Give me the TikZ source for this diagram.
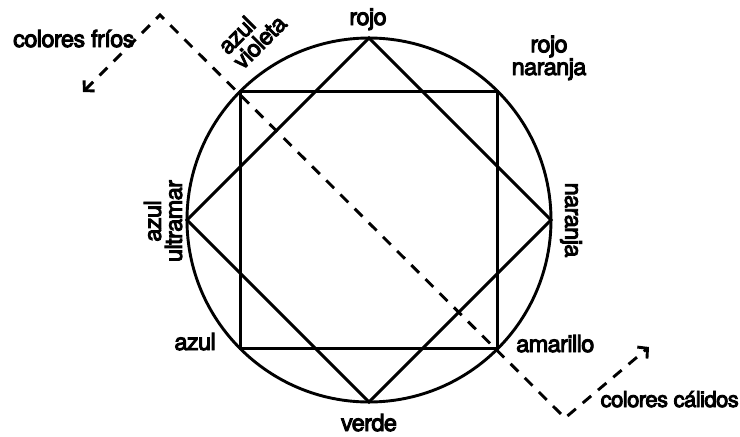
\documentclass[tikz,border=0pt]{standalone}
\usepackage{fontspec}
\setmainfont{TeX Gyre Heros}
\newfontfamily\lblfont{TeX Gyre Heros}[FakeBold=4, LetterSpace=-2.5]
\usetikzlibrary{arrows.meta,positioning}
\tikzset{
  wheelline/.style={line width=2.9pt, line join=miter},
  lbl/.style={font=\lblfont\fontsize{23.5}{21}\selectfont, inner sep=0pt, align=center},
  templine/.style={line width=2.9pt, dash pattern=on 11pt off 9pt,
                   {Straight Barb[length=7pt,width=15pt,line width=2.9pt]}-{Straight Barb[length=7pt,width=15pt,line width=2.9pt]}}
}

\begin{document}
\begin{tikzpicture}[x=1pt, y=-1pt]
  \useasboundingbox (0,0) rectangle (740,437);
  % color wheel
  \node[draw, wheelline, circle, minimum size=364pt, inner sep=0pt, outer sep=0pt] (wheel) at (369,220) {};
  \draw[wheelline] (wheel.north) -- (wheel.east) -- (wheel.south) -- (wheel.west) -- cycle;
  \draw[wheelline] (wheel.north west) -- (wheel.north east) -- (wheel.south east) -- (wheel.south west) -- cycle;
  % warm / cold split
  \coordinate (friosTip) at (83,92);
  \coordinate (friosTop) at (160,15);
  \coordinate (calidosLow) at (565,418);
  \coordinate (calidosTip) at (649,347);
  \draw[templine] (friosTip) -- (friosTop) -- (calidosLow) -- (calidosTip);
  % labels
  \node[lbl, anchor=base] (rojo) at (368,25) {rojo};
  \node[lbl, anchor=base] (rojoNaranja) at (549,75) {rojo\\naranja};
  \node[lbl, rotate=-90] (naranja) at (571,220) {naranja};
  \node[lbl, anchor=base west] (amarillo) at (516,352) {amarillo};
  \node[lbl, anchor=base] (verde) at (369,431) {verde};
  \node[lbl, anchor=base east] (azul) at (216,350) {azul};
  \node[lbl, rotate=90] (azulUltramar) at (163,221) {azul\\ultramar};
  \node[lbl, rotate=45, align=left, anchor=south west] (azulVioleta) at (243,71) {azul\\violeta};
  \node[lbl, anchor=base west] (frios) at (13,47) {colores fríos};
  \node[lbl, anchor=base east, font=\lblfont\fontsize{22}{21}\selectfont] (calidos) at (739,407) {colores cálidos};
\end{tikzpicture}
\end{document}
